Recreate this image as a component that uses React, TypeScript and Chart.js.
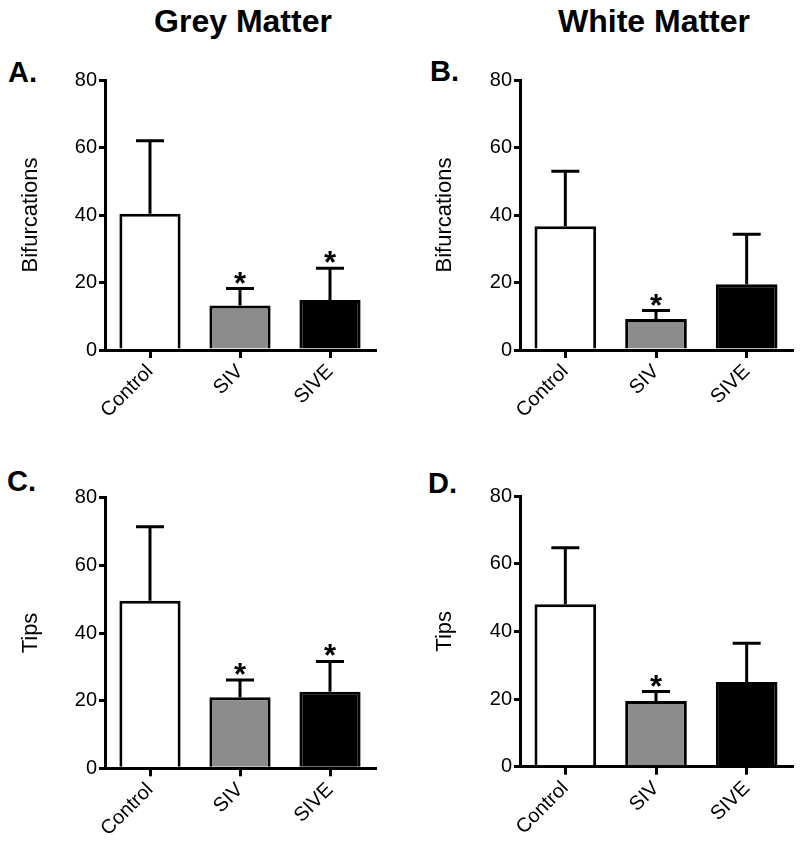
import React, { useEffect, useRef } from "react";
import { Chart, registerables } from "chart.js";

Chart.register(...registerables);

const categories = ["Control", "SIV", "SIVE"];
const barColors = ["#ffffff", "#8c8c8c", "#000000"];
const yMin = 0;
const yMax = 80;
const yStep = 20;

// Grey matter – bifurcations (A)
const greyBifMean = [40.4, 13.2, 14.8];
const greyBifErr = [21.6, 5.0, 9.4];
const greyBifSig = [false, true, true];

// White matter – bifurcations (B)
const whiteBifMean = [36.7, 9.2, 19.5];
const whiteBifErr = [16.3, 2.5, 14.8];
const whiteBifSig = [false, true, false];

// Grey matter – tips (C)
const greyTipsMean = [49.5, 21.0, 22.6];
const greyTipsErr = [21.9, 5.1, 9.0];
const greyTipsSig = [false, true, true];

// White matter – tips (D)
const whiteTipsMean = [48.0, 19.4, 25.0];
const whiteTipsErr = [16.7, 2.8, 11.5];
const whiteTipsSig = [false, true, false];

const FONT = "'Liberation Sans', Arial, Helvetica, sans-serif";
const LW = 3;

type PanelProps = {
  left: number;
  top: number;
  width: number;
  height: number;
  padTop: number;
  padRight: number;
  yAxisWidth: number;
  xAxisHeight: number;
  titlePad: number;
  yTitle: string;
  means: number[];
  errs: number[];
  sig: boolean[];
};

function Panel(p: PanelProps) {
  const ref = useRef<HTMLCanvasElement | null>(null);
  useEffect(() => {
    if (!ref.current) return;
    const errorPlugin = {
      id: "errbars",
      afterDatasetsDraw(chart: any) {
        const ctx = chart.ctx;
        const meta = chart.getDatasetMeta(0);
        const ys = chart.scales.y;
        ctx.save();
        ctx.strokeStyle = "#000";
        ctx.lineWidth = LW;
        ctx.lineCap = "butt";
        meta.data.forEach((bar: any, i: number) => {
          const x = bar.x;
          const yBar = bar.y;
          const yTop = ys.getPixelForValue(p.means[i] + p.errs[i]);
          ctx.beginPath();
          ctx.moveTo(x, yBar);
          ctx.lineTo(x, yTop);
          ctx.moveTo(x - 14, yTop);
          ctx.lineTo(x + 14, yTop);
          ctx.stroke();
          if (p.sig[i]) {
            ctx.fillStyle = "#000";
            ctx.font = `bold 31px ${FONT}`;
            ctx.textAlign = "center";
            ctx.textBaseline = "alphabetic";
            const m = ctx.measureText("*");
            const base = yTop - 5 - m.actualBoundingBoxDescent;
            ctx.fillText("*", x, base);
          }
        });
        ctx.restore();
      },
    };
    const chart = new Chart(ref.current, {
      type: "bar",
      data: {
        labels: categories,
        datasets: [
          {
            data: p.means,
            backgroundColor: barColors,
            borderColor: "#000",
            borderWidth: LW,
            borderSkipped: "start",
            barPercentage: 0.68,
            categoryPercentage: 1,
          },
        ],
      },
      options: {
        animation: false,
        responsive: false,
        layout: { padding: { top: p.padTop, right: p.padRight, left: 0, bottom: 0 } },
        plugins: {
          legend: { display: false },
          tooltip: { enabled: false },
          title: { display: false },
        },
        scales: {
          x: {
            type: "category",
            offset: true,
            grid: {
              display: true,
              drawOnChartArea: false,
              drawTicks: true,
              tickLength: 8,
              offset: false,
              color: "#000",
              lineWidth: LW,
            },
            border: { display: true, color: "#000", width: LW },
            ticks: {
              color: "#000",
              font: { family: FONT, size: 20 },
              minRotation: 45,
              maxRotation: 45,
              padding: 2,
            },
            afterFit: (s: any) => {
              s.height = p.xAxisHeight;
            },
          },
          y: {
            min: yMin,
            max: yMax,
            ticks: {
              stepSize: yStep,
              color: "#000",
              font: { family: FONT, size: 20 },
              padding: 2,
            },
            grid: {
              display: true,
              drawOnChartArea: false,
              drawTicks: true,
              tickLength: 6,
              color: "#000",
              lineWidth: LW,
            },
            border: { display: true, color: "#000", width: LW },
            title: {
              display: true,
              text: p.yTitle,
              color: "#000",
              font: { family: FONT, size: 22 },
              padding: { top: p.titlePad, bottom: 0 },
            },
            afterFit: (s: any) => {
              s.width = p.yAxisWidth;
            },
          },
        },
      } as any,
      plugins: [errorPlugin],
    });
    return () => chart.destroy();
  }, []);
  return (
    <canvas
      ref={ref}
      width={p.width}
      height={p.height}
      style={{ position: "absolute", left: p.left, top: p.top, width: p.width, height: p.height }}
    />
  );
}

const headStyle: React.CSSProperties = {
  position: "absolute",
  font: `bold 32px ${FONT}`,
  lineHeight: 1,
  color: "#000",
  textAlign: "center",
  width: 300,
  whiteSpace: "nowrap",
};

const letterStyle: React.CSSProperties = {
  position: "absolute",
  font: `bold 29px ${FONT}`,
  lineHeight: 1,
  color: "#000",
  whiteSpace: "nowrap",
};

export default function App() {
  return (
    <div
      style={{
        position: "absolute",
        left: 0,
        top: 0,
        width: 800,
        height: 843,
        background: "#fff",
        overflow: "hidden",
      }}
    >
      <div style={{ ...headStyle, left: 243 - 150, top: 5 }}>Grey Matter</div>
      <div style={{ ...headStyle, left: 654 - 150, top: 5 }}>White Matter</div>
      <div style={{ ...letterStyle, left: 8, top: 57.5 }}>A.</div>
      <div style={{ ...letterStyle, left: 430, top: 57 }}>B.</div>
      <div style={{ ...letterStyle, left: 7, top: 467 }}>C.</div>
      <div style={{ ...letterStyle, left: 428, top: 468.5 }}>D.</div>
      <Panel
        left={0}
        top={60}
        width={400}
        height={380}
        padTop={20}
        padRight={25}
        yAxisWidth={105}
        xAxisHeight={90}
        titlePad={18}
        yTitle="Bifurcations"
        means={greyBifMean}
        errs={greyBifErr}
        sig={greyBifSig}
      />
      <Panel
        left={400}
        top={60}
        width={400}
        height={380}
        padTop={20}
        padRight={8}
        yAxisWidth={120}
        xAxisHeight={90}
        titlePad={32}
        yTitle="Bifurcations"
        means={whiteBifMean}
        errs={whiteBifErr}
        sig={whiteBifSig}
      />
      <Panel
        left={0}
        top={470}
        width={400}
        height={373}
        padTop={27.7}
        padRight={25}
        yAxisWidth={105}
        xAxisHeight={74.7}
        titlePad={18}
        yTitle="Tips"
        means={greyTipsMean}
        errs={greyTipsErr}
        sig={greyTipsSig}
      />
      <Panel
        left={400}
        top={470}
        width={400}
        height={373}
        padTop={26}
        padRight={8}
        yAxisWidth={120}
        xAxisHeight={76.3}
        titlePad={32}
        yTitle="Tips"
        means={whiteTipsMean}
        errs={whiteTipsErr}
        sig={whiteTipsSig}
      />
    </div>
  );
}
